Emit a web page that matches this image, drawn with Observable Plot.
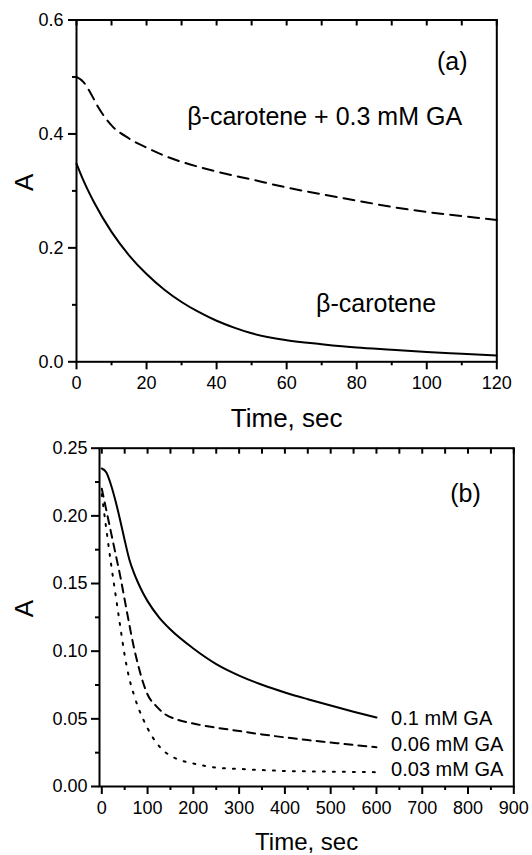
<!DOCTYPE html>
<html>
<head>
<meta charset="utf-8">
<script src="https://cdn.jsdelivr.net/npm/d3@7"></script>
<script src="https://cdn.jsdelivr.net/npm/@observablehq/plot@0.6"></script>
<style>
html, body { margin: 0; padding: 0; background: #fff; overflow: hidden; }
#chart svg { display: block; }
</style>
</head>
<body>
<div id="chart"></div>
<script>
// ---------- Panel (a) data ----------
const timeA1 = [0, 2, 5, 10, 15, 20, 25, 30, 35, 40, 45, 50, 60, 70, 80, 90, 100, 110, 120];
const betaCarotene = [0.348, 0.318, 0.28, 0.228, 0.187, 0.154, 0.127, 0.105, 0.087, 0.072, 0.060, 0.050, 0.038, 0.031, 0.025, 0.021, 0.017, 0.014, 0.011];
const timeA2 = [0, 2, 4, 6, 8, 10, 15, 20, 25, 30, 35, 40, 50, 60, 70, 80, 90, 100, 110, 120];
const betaCaroteneGA = [0.500, 0.491, 0.472, 0.449, 0.430, 0.415, 0.392, 0.376, 0.362, 0.351, 0.342, 0.334, 0.320, 0.306, 0.294, 0.283, 0.272, 0.263, 0.256, 0.249];
const labelsA = ["β-carotene + 0.3 mM GA", "β-carotene", "(a)"];
const xMajorA = [0, 20, 40, 60, 80, 100, 120];
const xMinorA = [10, 30, 50, 70, 90, 110];
const yMajorA = [0.0, 0.2, 0.4, 0.6];
const yMinorA = [0.1, 0.3, 0.5];

// ---------- Panel (b) data ----------
const timeB1 = [0, 10, 20, 30, 40, 50, 60, 70, 80, 90, 100, 125, 150, 200, 250, 300, 350, 400, 450, 500, 550, 600];
const ga01 = [0.235, 0.232, 0.223, 0.211, 0.197, 0.182, 0.168, 0.158, 0.150, 0.143, 0.137, 0.125, 0.116, 0.102, 0.0905, 0.082, 0.0752, 0.0695, 0.0645, 0.0598, 0.0553, 0.051];
const timeB2 = [0, 10, 20, 30, 40, 50, 60, 70, 80, 90, 100, 120, 140, 160, 200, 250, 300, 350, 400, 450, 500, 550, 600];
const ga006 = [0.220, 0.204, 0.188, 0.172, 0.156, 0.138, 0.120, 0.103, 0.089, 0.077, 0.068, 0.059, 0.053, 0.050, 0.0465, 0.0435, 0.041, 0.0385, 0.0363, 0.0343, 0.0325, 0.0307, 0.029];
const timeB3 = [0, 10, 20, 30, 40, 50, 60, 70, 80, 90, 100, 120, 140, 160, 200, 250, 300, 400, 500, 600];
const ga003 = [0.216, 0.190, 0.165, 0.142, 0.119, 0.097, 0.080, 0.068, 0.058, 0.050, 0.043, 0.032, 0.025, 0.021, 0.017, 0.014, 0.013, 0.0115, 0.011, 0.0106];
const labelsB = ["0.1 mM GA", "0.06 mM GA", "0.03 mM GA", "(b)"];
const xMajorB = [0, 100, 200, 300, 400, 500, 600, 700, 800, 900];
const xMinorB = [50, 150, 250, 350, 450, 550, 650, 750, 850];
const yMajorB = [0.00, 0.05, 0.10, 0.15, 0.20, 0.25];
const yMinorB = [0.025, 0.075, 0.125, 0.175, 0.225];

const xTitle = "Time, sec";
const yTitle = "A";

const FONT = "'Liberation Sans', Arial, Helvetica, sans-serif";
const toRows = (ts, vs) => ts.map((t, i) => ({t, A: vs[i]}));

function frameMarks({height, mT, mB, xMajor, xMinor, xTop, yMajor, yMinor, yFmt, padY, padX, titleDy, titleSize}) {
  const innerH = height - mT - mB;
  return [
    Plot.axisX({ticks: xMajor, tickSize: 8, tickPadding: padX, tickFormat: d3.format("d"), strokeWidth: 2, label: null, fontSize: 18}),
    Plot.axisX({ticks: xMinor, tickSize: 4, tickFormat: () => "", fill: "none", strokeWidth: 2, label: null}),
    Plot.axisY({ticks: yMajor, tickSize: 8, tickPadding: padY, tickFormat: d3.format(yFmt), strokeWidth: 2, label: null, fontSize: 18}),
    Plot.axisY({ticks: yMinor, tickSize: 4, tickFormat: () => "", fill: "none", strokeWidth: 2, label: null}),
    Plot.ruleX(xTop, {x: d => d, insetBottom: innerH - 6, stroke: "black", strokeWidth: 2}),
    Plot.frame({stroke: "black", strokeWidth: 2}),
    Plot.text([xTitle], {frameAnchor: "bottom", dy: titleDy, text: d => d, lineAnchor: "bottom", fontSize: titleSize, fontFamily: FONT}),
  ];
}

// ---------- Panel (a) ----------
const hA = 436, mTA = 19.5, mBA = 74.7, mLA = 76, mRA = 35.7;
const plotA = Plot.plot({
  width: 532, height: hA,
  marginLeft: mLA, marginRight: mRA, marginTop: mTA, marginBottom: mBA,
  style: {fontFamily: FONT, fontSize: "18px", color: "black", background: "white"},
  x: {domain: [0, 120], axis: null},
  y: {domain: [0, 0.6], axis: null},
  marks: [
    ...frameMarks({height: hA, mT: mTA, mB: mBA, xMajor: xMajorA, xMinor: xMinorA,
      xTop: d3.range(0, 121, 10), yMajor: yMajorA, yMinor: yMinorA, yFmt: ".1f", padY: 5, padX: 6, titleDy: 65.5, titleSize: 26}),
    Plot.text([yTitle], {frameAnchor: "left", dx: 32 - mLA, rotate: -90, text: d => d, lineAnchor: "bottom", fontSize: 26, fontFamily: FONT}),
    Plot.line(toRows(timeA2, betaCaroteneGA), {x: "t", y: "A", stroke: "black", strokeWidth: 2, strokeDasharray: "11,7", curve: "monotone-x"}),
    Plot.line(toRows(timeA1, betaCarotene), {x: "t", y: "A", stroke: "black", strokeWidth: 2, curve: "monotone-x"}),
    Plot.text([labelsA[0]], {x: 31.6, y: 0.4155, text: d => d, textAnchor: "start", lineAnchor: "bottom", fontSize: 25, fontFamily: FONT}),
    Plot.text([labelsA[1]], {x: 68.4, y: 0.0866, text: d => d, textAnchor: "start", lineAnchor: "bottom", fontSize: 25, fontFamily: FONT}),
    Plot.text([labelsA[2]], {x: 102.9, y: 0.512, text: d => d, textAnchor: "start", lineAnchor: "bottom", fontSize: 25, fontFamily: FONT}),
  ]
});

// ---------- Panel (b) ----------
const hB = 419, mTB = 11.7, mBB = 69, mLB = 99, mRB = 18.7;
const plotB = Plot.plot({
  width: 532, height: hB,
  marginLeft: mLB, marginRight: mRB, marginTop: mTB, marginBottom: mBB,
  style: {fontFamily: FONT, fontSize: "18px", color: "black", background: "white"},
  x: {domain: [-5, 900], axis: null},
  y: {domain: [0, 0.25], axis: null},
  marks: [
    ...frameMarks({height: hB, mT: mTB, mB: mBB, xMajor: xMajorB, xMinor: xMinorB,
      xTop: d3.range(0, 901, 50), yMajor: yMajorB, yMinor: yMinorB, yFmt: ".2f", padY: 4, padX: 7, titleDy: 63, titleSize: 24}),
    Plot.text([yTitle], {frameAnchor: "left", dx: 32 - mLB, rotate: -90, text: d => d, lineAnchor: "bottom", fontSize: 26, fontFamily: FONT}),
    Plot.line(toRows(timeB1, ga01), {x: "t", y: "A", stroke: "black", strokeWidth: 2, curve: "monotone-x"}),
    Plot.line(toRows(timeB2, ga006), {x: "t", y: "A", stroke: "black", strokeWidth: 2, strokeDasharray: "8,6", curve: "monotone-x"}),
    Plot.line(toRows(timeB3, ga003), {x: "t", y: "A", stroke: "black", strokeWidth: 2, strokeDasharray: "2,8", curve: "monotone-x"}),
    Plot.text([labelsB[0]], {x: 632, y: 0.0458, text: d => d, textAnchor: "start", lineAnchor: "bottom", fontSize: 20, fontFamily: FONT}),
    Plot.text([labelsB[1]], {x: 632, y: 0.0261, text: d => d, textAnchor: "start", lineAnchor: "bottom", fontSize: 20, fontFamily: FONT}),
    Plot.text([labelsB[2]], {x: 632, y: 0.0074, text: d => d, textAnchor: "start", lineAnchor: "bottom", fontSize: 20, fontFamily: FONT}),
    Plot.text([labelsB[3]], {x: 761, y: 0.210, text: d => d, textAnchor: "start", lineAnchor: "bottom", fontSize: 25, fontFamily: FONT}),
  ]
});

const root = document.getElementById("chart");
root.appendChild(plotA);
root.appendChild(plotB);
</script>
</body>
</html>
